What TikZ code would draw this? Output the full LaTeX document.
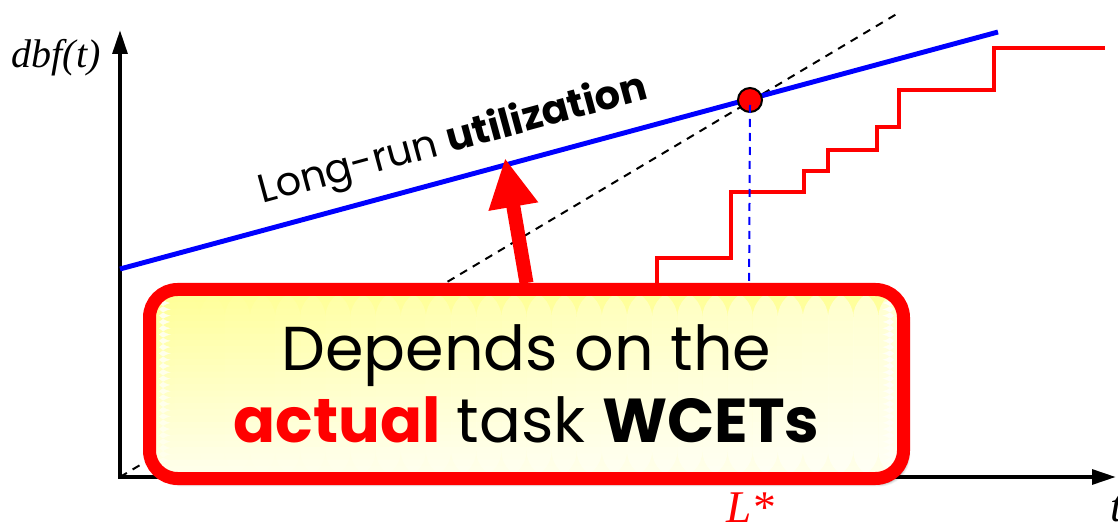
\documentclass[tikz,border=0pt]{standalone}
\usepackage{fontspec}
\setmainfont{Poppins}
\newfontfamily\tmsfont{Liberation Serif}
\usetikzlibrary{arrows.meta,shadows.blur,calc}
\pgfdeclarelayer{front}
\pgfsetlayers{main,front}
\definecolor{boxtop}{RGB}{255,255,150}
\definecolor{boxbot}{RGB}{255,255,236}
\begin{document}
\begin{tikzpicture}[x=0.75pt,y=-0.75pt,
  axisline/.style={line width=3pt,line cap=rect,-{Triangle[length=18pt,width=11pt]}},
  bluel/.style={blue,line width=3.7pt},
  blackdash/.style={black,line width=1.5pt,dash pattern=on 6pt off 5pt},
  bluedash/.style={blue,line width=1.5pt,dash pattern=on 6pt off 4.5pt},
  stair/.style={red,line width=3.6pt},
  dot/.style={circle,draw=black,fill=red,line width=1.5pt,minimum size=18pt,inner sep=0pt},
  bigarrow/.style={red,line width=10.5pt,-{Triangle[length=37pt,width=35pt]}},
  serif lbl/.style={font=\tmsfont\itshape\fontsize{34}{34}\selectfont,inner sep=0pt},
  callout box/.style={draw=red,line width=9.75pt,rounded corners=21pt,
    minimum width=565.5pt,minimum height=141.75pt,inner sep=0pt,
    fill=boxbot,
    path picture={
      \foreach \k [evaluate=\k as \pct using {int(100-\k*100/29)}] in {0,...,29}{
        \fill[boxtop!\pct!boxbot]
          ($(path picture bounding box.north west)!\k/30!(path picture bounding box.south west)$)
          rectangle
          ($(path picture bounding box.north east)!{(\k+1.3)/30}!(path picture bounding box.south east)$);
      }
      \foreach \k [evaluate=\k as \op using {0.55*\k/29}] in {0,...,29}{
        \fill[white,opacity=\op]
          ($(path picture bounding box.north west)!\k/30!(path picture bounding box.north east)$)
          rectangle
          ($(path picture bounding box.south west)!{(\k+1)/30}!(path picture bounding box.south east)$);
      }
    },
    blur shadow={shadow xshift=3pt,shadow yshift=-4pt,shadow blur steps=8,shadow opacity=45},
    align=center,font=\fontsize{46.5}{56}\selectfont}]
\useasboundingbox (0,0) rectangle (1118,527);

% box (front layer)
\begin{pgfonlayer}{front}
\node[callout box] (box) at (526.5,384)
  {Depends on the\\[-2pt]{\bfseries\color{red}actual} task {\bfseries WCETs}};
\end{pgfonlayer}

% axes
\coordinate (o) at (120,477);
\coordinate (ytip) at (120,30);
\coordinate (xtip) at (1116,477);
\draw[axisline] (o) -- (ytip);
\draw[axisline] (o) -- (xtip);
\node[serif lbl,font=\tmsfont\itshape\fontsize{30}{30}\selectfont,anchor=base] (ylab) at (56,68) {dbf(t)};
\node[serif lbl,anchor=base west] (xlab) at (1110,521) {t};

% dashed line through origin
\coordinate (dend) at (900,12);
\draw[blackdash] (o) -- (dend);

% long-run utilization line
\coordinate (b0) at (120,269);
\coordinate (b1) at (998,32);
\draw[bluel] (b0) -- (b1);
\node[anchor=base,rotate=15.2,font=\fontsize{30}{30}\selectfont,inner sep=0pt] (lr) at (456,151)
  {Long-run \textbf{utilization}};

% staircase dbf
\draw[stair] (657,300) |- (731,258) |- (804,192) |- (828,171) |- (877,150)
  |- (899,127) |- (994,90) |- (1105,48);

% L* marker
\node[dot] (pt) at (750,100) {};
\coordinate (lbot) at (749,300);
\draw[bluedash] (pt.south) ++(0,-8) -- (lbot);
\node[serif lbl,text=red,anchor=base] (lstar) at (750,522) {L*};

% arrow from box
\coordinate (atip) at (505,158);
\draw[bigarrow] (box.north) -- (atip);
\end{tikzpicture}
\end{document}
